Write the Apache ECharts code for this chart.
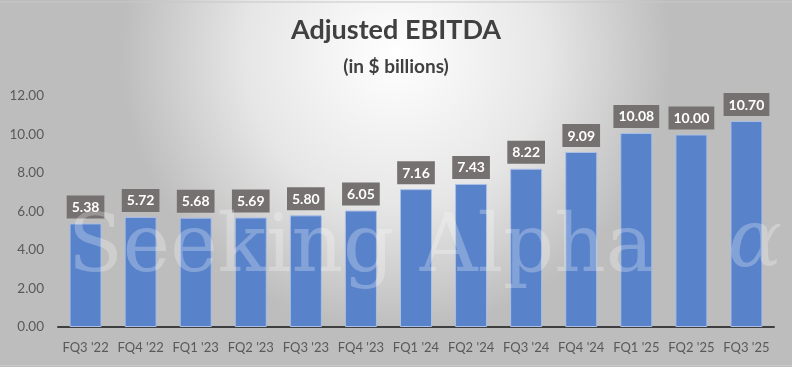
<!DOCTYPE html>
<html>
<head>
<meta charset="utf-8">
<script src="https://cdn.jsdelivr.net/npm/echarts@6/dist/echarts.min.js"></script>
<style>
html,body{margin:0;padding:0;background:#fff;}
#c{width:792px;height:367px;}
</style>
</head>
<body>
<div id="c"></div>
<script>
const categories = ["FQ3 '22","FQ4 '22","FQ1 '23","FQ2 '23","FQ3 '23","FQ4 '23","FQ1 '24","FQ2 '24","FQ3 '24","FQ4 '24","FQ1 '25","FQ2 '25","FQ3 '25"];
const ebitda = [5.38,5.72,5.68,5.69,5.80,6.05,7.16,7.43,8.22,9.09,10.08,10.00,10.70];
const titleText = "Adjusted EBITDA";
const subtitleText = "(in $ billions)";
const watermarkText = "Seeking Alpha";

const chart = echarts.init(document.getElementById('c'), null, {renderer:'canvas'});
const FONT = 'Lato, "Open Sans", sans-serif';
chart.setOption({
  backgroundColor: {
    type:'radial', x:0.5, y:0.15, r:0.75,
    colorStops:[{offset:0,color:'#ffffff'},{offset:0.55,color:'#e6e6e6'},{offset:1,color:'#bdbdbd'}]
  },
  animation:false,
  title:[
    {text:titleText, left:'center', top:12, textStyle:{fontFamily:FONT, fontSize:27, fontWeight:'bold', color:'#404040'}},
    {text:subtitleText, left:'center', top:52, textStyle:{fontFamily:FONT, fontSize:19, fontWeight:'bold', color:'#404040'}}
  ],
  grid:{left:58, right:18, top:96, bottom:40},
  xAxis:{
    type:'category', data:categories,
    axisLine:{lineStyle:{color:'#3f3f3f', width:2}},
    axisTick:{show:false},
    axisLabel:{fontFamily:FONT, fontSize:13, color:'#595959', margin:14, interval:0}
  },
  yAxis:{
    type:'value', min:0, max:12, interval:2,
    splitLine:{show:false},
    axisLine:{show:false}, axisTick:{show:false},
    axisLabel:{fontFamily:FONT, fontSize:13.5, color:'#595959', margin:14, formatter:v=>v.toFixed(2)}
  },
  series:[{
    type:'bar', data:ebitda, barWidth:32,
    itemStyle:{color:'#5882c9', borderColor:'#a9bfe6', borderWidth:1},
    label:{
      show:true, position:'top', distance:5,
      formatter:p=>p.value.toFixed(2),
      fontFamily:FONT, fontSize:14, fontWeight:'bold', color:'#ffffff',
      backgroundColor:'#767171', padding:[5,5,4,5]
    },
    z:2
  }],
  graphic:[
    {type:'text', left:68, top:210, z:10, silent:true,
     style:{text:watermarkText, font:'80px "DejaVu Serif", serif', fill:'rgba(255,255,255,0.26)'}},
    {type:'text', left:728, top:205, z:10, silent:true,
     style:{text:'α', font:'italic 80px "DejaVu Serif", serif', fill:'rgba(255,255,255,0.26)'}},
    {type:'line', shape:{x1:0,y1:2,x2:792,y2:2}, style:{stroke:'#c8c8c8', lineWidth:1}},
    {type:'line', shape:{x1:0,y1:365.5,x2:792,y2:365.5}, style:{stroke:'#c8c8c8', lineWidth:1}}
  ]
});
</script>
</body>
</html>
